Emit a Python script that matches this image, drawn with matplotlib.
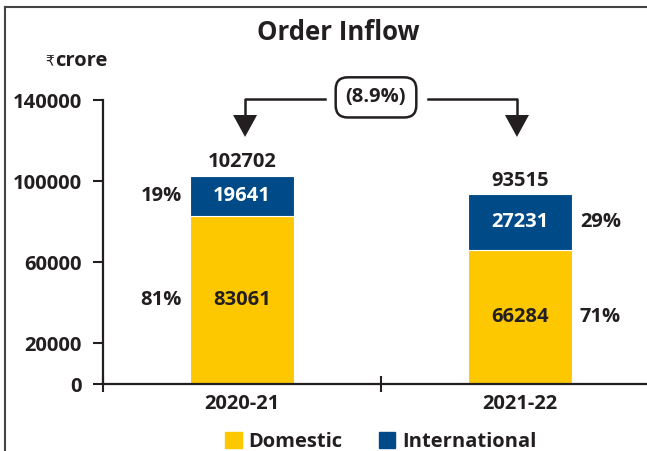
import matplotlib.pyplot as plt
from matplotlib.patches import Patch
from matplotlib.lines import Line2D

years = ['2020-21', '2021-22']
domestic = [83061, 66284]
international = [19641, 27231]
totals = [102702, 93515]
dom_pct = ['81%', '71%']
int_pct = ['19%', '29%']
change_label = '(8.9%)'

yellow = '#FDC800'
blue = '#004B87'
ink = '#231F20'
fs = 14.5

plt.rcParams['font.family'] = ['Open Sans', 'DejaVu Sans']
plt.rcParams['font.weight'] = 'bold'

fig = plt.figure(figsize=(6.47, 4.51), dpi=100)
ax = fig.add_axes([103/647, 67/451, 556/647, 284/451])

x = [0, 1]
w = 0.374
ax.bar(x, domestic, w, color=yellow, edgecolor='white', linewidth=0.8)
ax.bar(x, international, w, bottom=domestic, color=blue, edgecolor='white', linewidth=0.8)

ax.set_xlim(-0.5, 1.5)
ax.set_ylim(0, 140000)
ax.set_yticks([0, 20000, 60000, 100000, 140000])
ax.set_yticklabels(['0', '20000', '60000', '100000', '140000'])
ax.set_xticks([-0.5, 0.5, 1.5])
ax.set_xticklabels([])
ax.set_xticks(x, minor=True)
ax.set_xticklabels(years, minor=True)
ax.tick_params(axis='x', which='major', direction='inout', length=12, width=1.5, color=ink)
ax.tick_params(axis='x', which='minor', length=0, pad=7, labelsize=fs, labelcolor=ink)
ax.tick_params(axis='y', direction='out', length=7, width=1.5, color=ink, pad=8,
               labelsize=fs, labelcolor=ink)
for lab in ax.get_xticklabels(minor=True) + ax.get_yticklabels():
    lab.set_fontweight('bold')
for s in ['top', 'right']:
    ax.spines[s].set_visible(False)
for s in ['left', 'bottom']:
    ax.spines[s].set_linewidth(1.6)
    ax.spines[s].set_color(ink)

ypx = 140000 / 284
dx = 8 / 278
for i in range(2):
    ax.text(x[i], totals[i] + 13.5 * ypx, f'{totals[i]}', ha='center', va='center',
            fontsize=fs, fontweight='bold', color=ink)
    ax.text(x[i], domestic[i] / 2, f'{domestic[i]}', ha='center', va='center',
            fontsize=fs, fontweight='bold', color=ink)
    ax.text(x[i], domestic[i] + international[i] / 2, f'{international[i]}', ha='center',
            va='center', fontsize=fs, fontweight='bold', color='white')

# percentage labels: left of first bar, right of second bar
ax.text(x[0] - w / 2 - dx, domestic[0] / 2, dom_pct[0], ha='right', va='center',
        fontsize=fs, fontweight='bold', color=ink)
ax.text(x[0] - w / 2 - dx, domestic[0] + international[0] / 2, int_pct[0], ha='right',
        va='center', fontsize=fs, fontweight='bold', color=ink)
ax.text(x[1] + w / 2 + dx, domestic[1] / 2, dom_pct[1], ha='left', va='center',
        fontsize=fs, fontweight='bold', color=ink)
ax.text(x[1] + w / 2 + dx, domestic[1] + international[1] / 2, int_pct[1], ha='left',
        va='center', fontsize=fs, fontweight='bold', color=ink)

# change connector with arrows
ly = 140300
base = 132600
tip = 121800
hw = 12 / 278
xa, xb = 0.011, 0.989
ax.plot([xa, xa, 0.298], [base, ly, ly], color=ink, lw=1.8, clip_on=False)
ax.plot([0.669, xb, xb], [ly, ly, base], color=ink, lw=1.8, clip_on=False)
for xx in (xa, xb):
    ax.fill([xx - hw, xx + hw, xx], [base, base, tip], color=ink, clip_on=False, lw=0)
ax.text(0.482, ly + 2 * ypx, change_label, ha='center', va='center', fontsize=fs,
        fontweight='bold', color=ink,
        bbox=dict(boxstyle='round,pad=0.5,rounding_size=0.6', fc='white', ec=ink, lw=1.8))

fig.text(338/647, 1 - 33/451, 'Order Inflow', ha='center', va='center', fontsize=18.5,
         fontweight='bold', color=ink)
fig.text(55/647, 1 - 61/451, 'crore', ha='left', va='center', fontsize=fs,
         fontweight='bold', color=ink)
fig.text(54/647, 1 - 61/451, '₹', ha='right', va='center', fontsize=10,
         fontweight='normal', family='DejaVu Sans', color=ink)

handles = [Patch(color=yellow, label='Domestic'), Patch(color=blue, label='International')]
fig.legend(handles=handles, loc='center', bbox_to_anchor=(381/647, 1 - 442/451), ncol=2,
           frameon=False, handlelength=0.8, handleheight=0.8,
           handletextpad=0.35, columnspacing=1.8, labelcolor=ink,
           prop={'weight': 'bold', 'size': fs})

# outer frame (left and top only)
fig.add_artist(Line2D([5/647, 5/647], [0, 1 - 7/451], color='#444444', lw=1.5))
fig.add_artist(Line2D([5/647, 1], [1 - 7/451, 1 - 7/451], color='#444444', lw=1.5))

fig.savefig('out.png', dpi=100)
